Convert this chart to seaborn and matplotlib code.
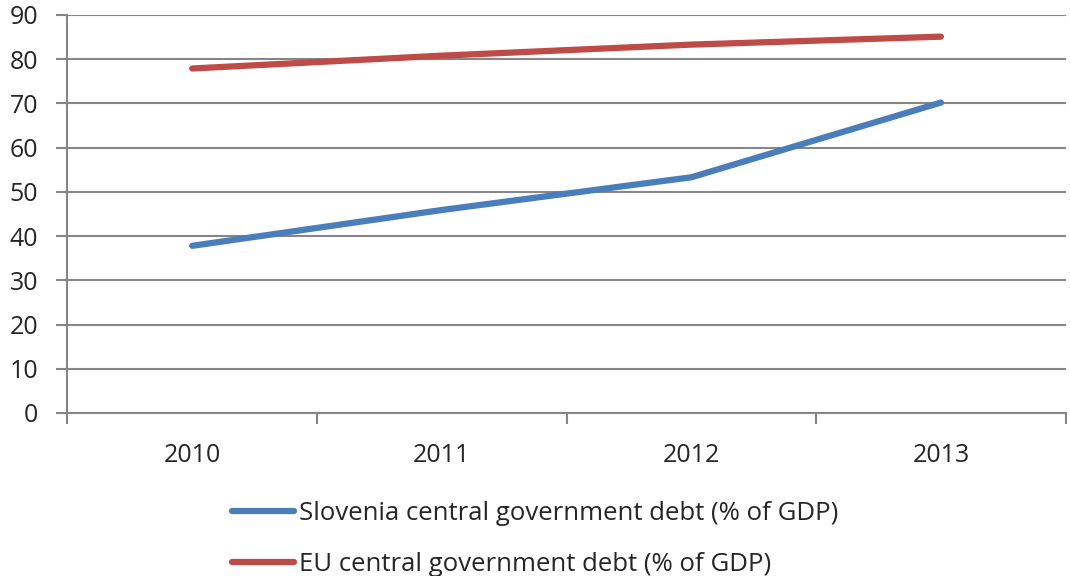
import numpy as np
import pandas as pd
import matplotlib
matplotlib.use("Agg")
import matplotlib.pyplot as plt
import seaborn as sns

# data
years = [2010, 2011, 2012, 2013]
slovenia = [37.8, 45.9, 53.3, 70.2]
eu = [77.9, 80.8, 83.3, 85.1]
labels = ["Slovenia central government debt (% of GDP)",
          "EU central government debt (% of GDP)"]

df = pd.DataFrame({
    "year": years * 2,
    "debt": slovenia + eu,
    "series": [labels[0]] * 4 + [labels[1]] * 4,
})

sns.set_style("white")
plt.rcParams["font.family"] = ["Open Sans", "DejaVu Sans"]

fig = plt.figure(figsize=(10.7, 5.76), dpi=100)
ax = fig.add_axes([0.063, 0.283, 0.933, 0.691])

sns.lineplot(data=df, x="year", y="debt", hue="series",
             palette=["#4A7EBB", "#BE4B48"], linewidth=4.5,
             solid_capstyle="round", legend=False, ax=ax)

grid = "#868686"
ax.set_ylim(0, 90)
ax.set_yticks(np.arange(0, 91, 10))
ax.set_xlim(2009.5, 2013.5)
ax.set_xticks(years)
ax.set_xticklabels([str(y) for y in years])
ax.set_xticks(np.arange(2009.5, 2014, 1), minor=True)
ax.yaxis.grid(True, color=grid, linewidth=1.5)
ax.set_axisbelow(True)
ax.set_xlabel("")
ax.set_ylabel("")

for s in ["top", "right"]:
    ax.spines[s].set_visible(False)
for s in ["left", "bottom"]:
    ax.spines[s].set_color(grid)
    ax.spines[s].set_linewidth(1.5)

ax.tick_params(axis="y", which="major", left=True, length=8, width=1.5,
               color=grid, labelsize=18, pad=13)
ax.tick_params(axis="x", which="major", bottom=False, labelsize=18, pad=18)
ax.tick_params(axis="x", which="minor", bottom=True, length=8, width=1.5,
               color=grid)

handles = [plt.Line2D([], [], color=c, linewidth=4.5, solid_capstyle="round")
           for c in ["#4A7EBB", "#BE4B48"]]
fig.legend(handles, labels, loc="lower center", bbox_to_anchor=(0.5, -0.042),
           ncol=1, frameon=False, fontsize=18.5, handlelength=2.4,
           handletextpad=0.2, labelspacing=1.0)

fig.savefig("out.png", dpi=100)
